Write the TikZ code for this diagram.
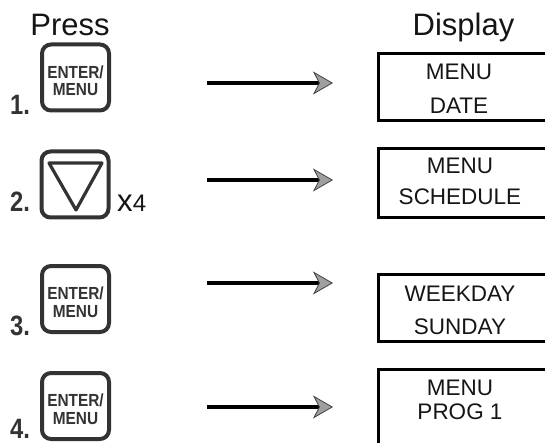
\documentclass[tikz,border=0pt]{standalone}
\usepackage{fontspec}
\setmainfont{Liberation Sans}
\newfontfamily\keyfont[FakeStretch=0.88]{Liberation Sans}
\newfontfamily\numfont[FakeStretch=0.85]{Liberation Sans}
\usetikzlibrary{arrows.meta}
\definecolor{keyc}{HTML}{333333}
\definecolor{txtc}{HTML}{151515}
\tikzset{
  keybox/.style={draw=keyc, line width=4pt, rounded corners=9pt, minimum width=67pt, minimum height=66pt, inner sep=0pt, outer sep=0pt},
  keytxt/.style={font=\keyfont\bfseries\fontsize{17.5}{17.5}\selectfont, text=keyc, align=center, inner sep=0pt},
  numtxt/.style={font=\numfont\bfseries\fontsize{28}{28}\selectfont, text=keyc, anchor=base west, inner sep=0pt},
  headtxt/.style={font=\fontsize{31}{31}\selectfont, text=txtc, anchor=base, inner sep=0pt},
  disptxt/.style={font=\fontsize{22.5}{22.5}\selectfont, text=txtc, inner sep=0pt},
  dispbox/.style={draw=black, line width=3.5pt, minimum width=220pt, anchor=north west, inner sep=0pt, outer sep=0pt},
  arr/.style={line width=3.2pt, -{Stealth[length=20pt, width=23pt, inset=6pt, fill=gray!75, color=black!75, line width=0.8pt]}},
}
\begin{document}
\begin{tikzpicture}[x=1pt, y=-1pt]
\useasboundingbox (0,0) rectangle (545,443);
\clip (0,0) rectangle (545,443);
% headings
\node[headtxt] (press) at (70,36) {Press};
\node[headtxt] (display) at (463.5,36) {Display};
% keys
\node[keybox] (k1) at (75.5,77.5) {};
\node[keytxt] (k1t) at (75.5,80.5) {ENTER/\\MENU};
\node[keybox] (k2) at (75,184.5) {};
\draw[draw=keyc, line width=3.2pt, line join=round] (49,163) -- (102,163) -- (76,210) -- cycle;
\node[keybox] (k3) at (75.5,299) {};
\node[keytxt] (k3t) at (75.5,302) {ENTER/\\MENU};
\node[keybox] (k4) at (75.5,406) {};
\node[keytxt] (k4t) at (75.5,409) {ENTER/\\MENU};
% numbers
\node[numtxt] (n1) at (10,115) {1.};
\node[numtxt] (n2) at (10,212) {2.};
\node[numtxt] (n3) at (10,335) {3.};
\node[numtxt] (n4) at (10,438) {4.};
\node[font=\fontsize{24}{24}\selectfont, text=txtc, anchor=base west, inner sep=0pt] (x4) at (117,212) {\scalebox{1.3}[1.3]{x}4};
% display boxes
\node[dispbox, minimum height=67pt] (d1) at (378.5,53.5) {};
\node[dispbox, minimum height=69pt] (d2) at (378.5,148.5) {};
\node[dispbox, minimum height=67pt] (d3) at (378.5,274.5) {};
\node[dispbox, minimum height=100pt] (d4) at (378.5,369.5) {};
\node[disptxt] (d1a) at (459,72) {MENU};
\node[disptxt] (d1b) at (459,106) {DATE};
\node[disptxt] (d2a) at (460,166) {MENU};
\node[disptxt] (d2b) at (460,197) {SCHEDULE};
\node[disptxt] (d3a) at (460,294) {WEEKDAY};
\node[disptxt] (d3b) at (460,327) {SUNDAY};
\node[disptxt] (d4a) at (460,388) {MENU};
\node[disptxt] (d4b) at (460,412) {PROG 1};
% arrows
\foreach \i/\y in {1/83, 2/180, 3/283, 4/407} {
  \coordinate (s\i) at (207,\y);
  \coordinate (e\i) at (333,\y);
  \draw[arr] (s\i) -- (e\i);
}
\end{tikzpicture}
\end{document}
